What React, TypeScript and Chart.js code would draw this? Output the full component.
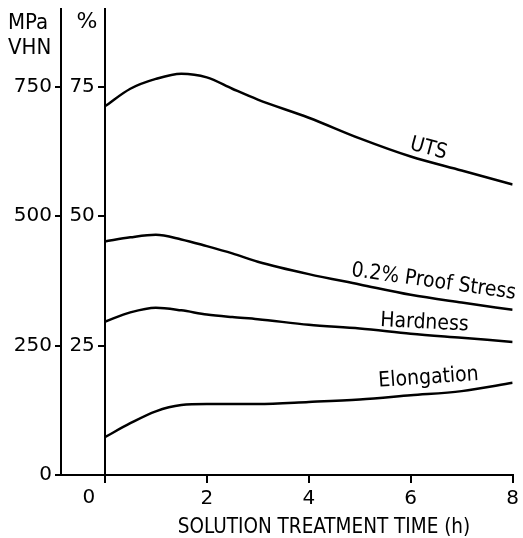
import React, { useEffect, useRef } from 'react';
import { Chart, registerables } from 'chart.js';

Chart.register(...registerables);

const FONT_C = "'DejaVu Sans Condensed', 'DejaVu Sans', sans-serif";
const FONT = "'DejaVu Sans', sans-serif";

// Solution treatment time (h)
const hours = [0, 0.5, 1, 1.5, 2, 2.5, 3, 4, 5, 6, 7, 8];
// MPa
const utsMPa = [712, 746, 765, 775, 768, 746, 725, 690, 650, 615, 588, 561];
const proofMPa = [451, 459, 464, 455, 442, 428, 412, 388, 368, 348, 333, 319];
// VHN
const hardnessVHN = [296, 314, 323, 318, 310, 305, 301, 290, 283, 273, 265, 257];
// %
const elongationPct = [7.3, 10.0, 12.3, 13.5, 13.7, 13.7, 13.7, 14.1, 14.6, 15.4, 16.2, 17.8];

const xTicks = [0, 2, 4, 6, 8];
const mpaTicks = [0, 250, 500, 750];
const pctTicks = [25, 50, 75];

const seriesNames = ['UTS', '0.2% Proof Stress', 'Hardness', 'Elongation'];

// curve label anchors (data coordinates) and rotation in degrees
const curveLabels = [
  { text: seriesNames[0], h: 6.35, v: 630, axis: 'y', rot: 15 },
  { text: seriesNames[1], h: 6.45, v: 373, axis: 'y', rot: 8 },
  { text: seriesNames[2], h: 6.27, v: 294, axis: 'y', rot: 3 },
  { text: seriesNames[3], h: 6.35, v: 18.75, axis: 'y2', rot: -4 },
];

const pts = (ys: number[]) => hours.map((h, i) => ({ x: h, y: ys[i] }));

const textPlugin = {
  id: 'extraTexts',
  afterDraw(chart: any) {
    const { ctx, scales } = chart;
    const x = scales.x;
    const y2 = scales.y2;
    ctx.save();
    ctx.fillStyle = '#000';
    ctx.textBaseline = 'middle';
    // x tick label "0"
    ctx.font = `20px ${FONT}`;
    ctx.textAlign = 'center';
    ctx.fillText('0', x.getPixelForValue(0) - 16, x.top + 23);
    // % axis tick labels
    ctx.textAlign = 'right';
    const x0 = x.getPixelForValue(0);
    pctTicks.forEach((v) => {
      ctx.fillText(String(v), x0 - 10, y2.getPixelForValue(v));
    });
    // x axis title
    ctx.font = `20.5px ${FONT_C}`;
    ctx.textAlign = 'center';
    ctx.fillText('SOLUTION TREATMENT TIME (h)', 324, x.top + 53);
    // y axis units
    ctx.font = `22px ${FONT_C}`;
    ctx.textAlign = 'left';
    ctx.fillText('MPa', 8, 23);
    ctx.fillText('VHN', 8, 48);
    ctx.font = `22px ${FONT}`;
    ctx.textAlign = 'center';
    ctx.fillText('%', 87, 22);
    // curve labels
    ctx.font = `21px ${FONT_C}`;
    curveLabels.forEach((l) => {
      const px = x.getPixelForValue(l.h);
      const py = scales[l.axis].getPixelForValue(l.v);
      ctx.save();
      ctx.translate(px, py);
      ctx.rotate((l.rot * Math.PI) / 180);
      ctx.textAlign = 'center';
      ctx.fillText(l.text, 0, 0);
      ctx.restore();
    });
    ctx.restore();
  },
};

export default function App() {
  const ref = useRef<HTMLCanvasElement | null>(null);
  useEffect(() => {
    if (!ref.current) return;
    const line = (label: string, data: number[], axis: string) => ({
      label,
      data: pts(data),
      yAxisID: axis,
      borderColor: '#000',
      borderWidth: 2.5,
      pointRadius: 0,
      fill: false,
      cubicInterpolationMode: 'monotone' as const,
    });
    const noPad = (s: any) => {
      s.paddingTop = 0;
      s.paddingBottom = 0;
    };
    const chart = new Chart(ref.current, {
      type: 'line',
      data: {
        datasets: [
          line(seriesNames[0], utsMPa, 'y'),
          line(seriesNames[1], proofMPa, 'y'),
          line(seriesNames[2], hardnessVHN, 'y'),
          line(seriesNames[3], elongationPct, 'y2'),
        ],
      },
      options: {
        responsive: false,
        animation: false,
        layout: { padding: { left: 0, right: 8, top: 9, bottom: 0 } },
        plugins: { legend: { display: false }, tooltip: { enabled: false } },
        scales: {
          x: {
            type: 'linear',
            min: -0.86,
            max: 8,
            afterBuildTicks: (s: any) => {
              s.ticks = xTicks.map((v) => ({ value: v }));
            },
            afterFit: (s: any) => {
              s.height = 63;
              s.paddingLeft = 0;
            },
            grid: { drawOnChartArea: false, drawTicks: true, tickLength: 8, color: '#000', lineWidth: 2 },
            border: { display: true, color: '#000', width: 2 },
            ticks: {
              color: '#000',
              font: { family: FONT, size: 20 },
              padding: 4,
              maxRotation: 0,
              callback: (v: any) => (v === 0 ? '' : String(v)),
            },
          },
          y: {
            type: 'linear',
            position: 'left',
            min: 0,
            max: 900,
            afterBuildTicks: (s: any) => {
              s.ticks = mpaTicks.map((v) => ({ value: v }));
            },
            afterFit: (s: any) => {
              s.width = 61;
              noPad(s);
            },
            grid: { drawOnChartArea: false, drawTicks: true, tickLength: 6, color: '#000', lineWidth: 2 },
            border: { display: true, color: '#000', width: 2 },
            ticks: { color: '#000', font: { family: FONT, size: 20 }, padding: 3 },
          },
          y2: {
            type: 'linear',
            position: { x: 0 } as any,
            min: 0,
            max: 90,
            afterBuildTicks: (s: any) => {
              s.ticks = pctTicks.map((v) => ({ value: v }));
            },
            afterFit: noPad,
            grid: { drawOnChartArea: false, drawTicks: true, tickLength: 6, color: '#000', lineWidth: 2 },
            border: { display: true, color: '#000', width: 2 },
            ticks: { display: false },
          },
        },
      },
      plugins: [textPlugin],
    });
    return () => chart.destroy();
  }, []);
  return (
    <div style={{ position: 'absolute', left: 0, top: 0, width: 523, height: 538, background: '#fff' }}>
      <canvas ref={ref} width={523} height={538} style={{ display: 'block' }} />
    </div>
  );
}
